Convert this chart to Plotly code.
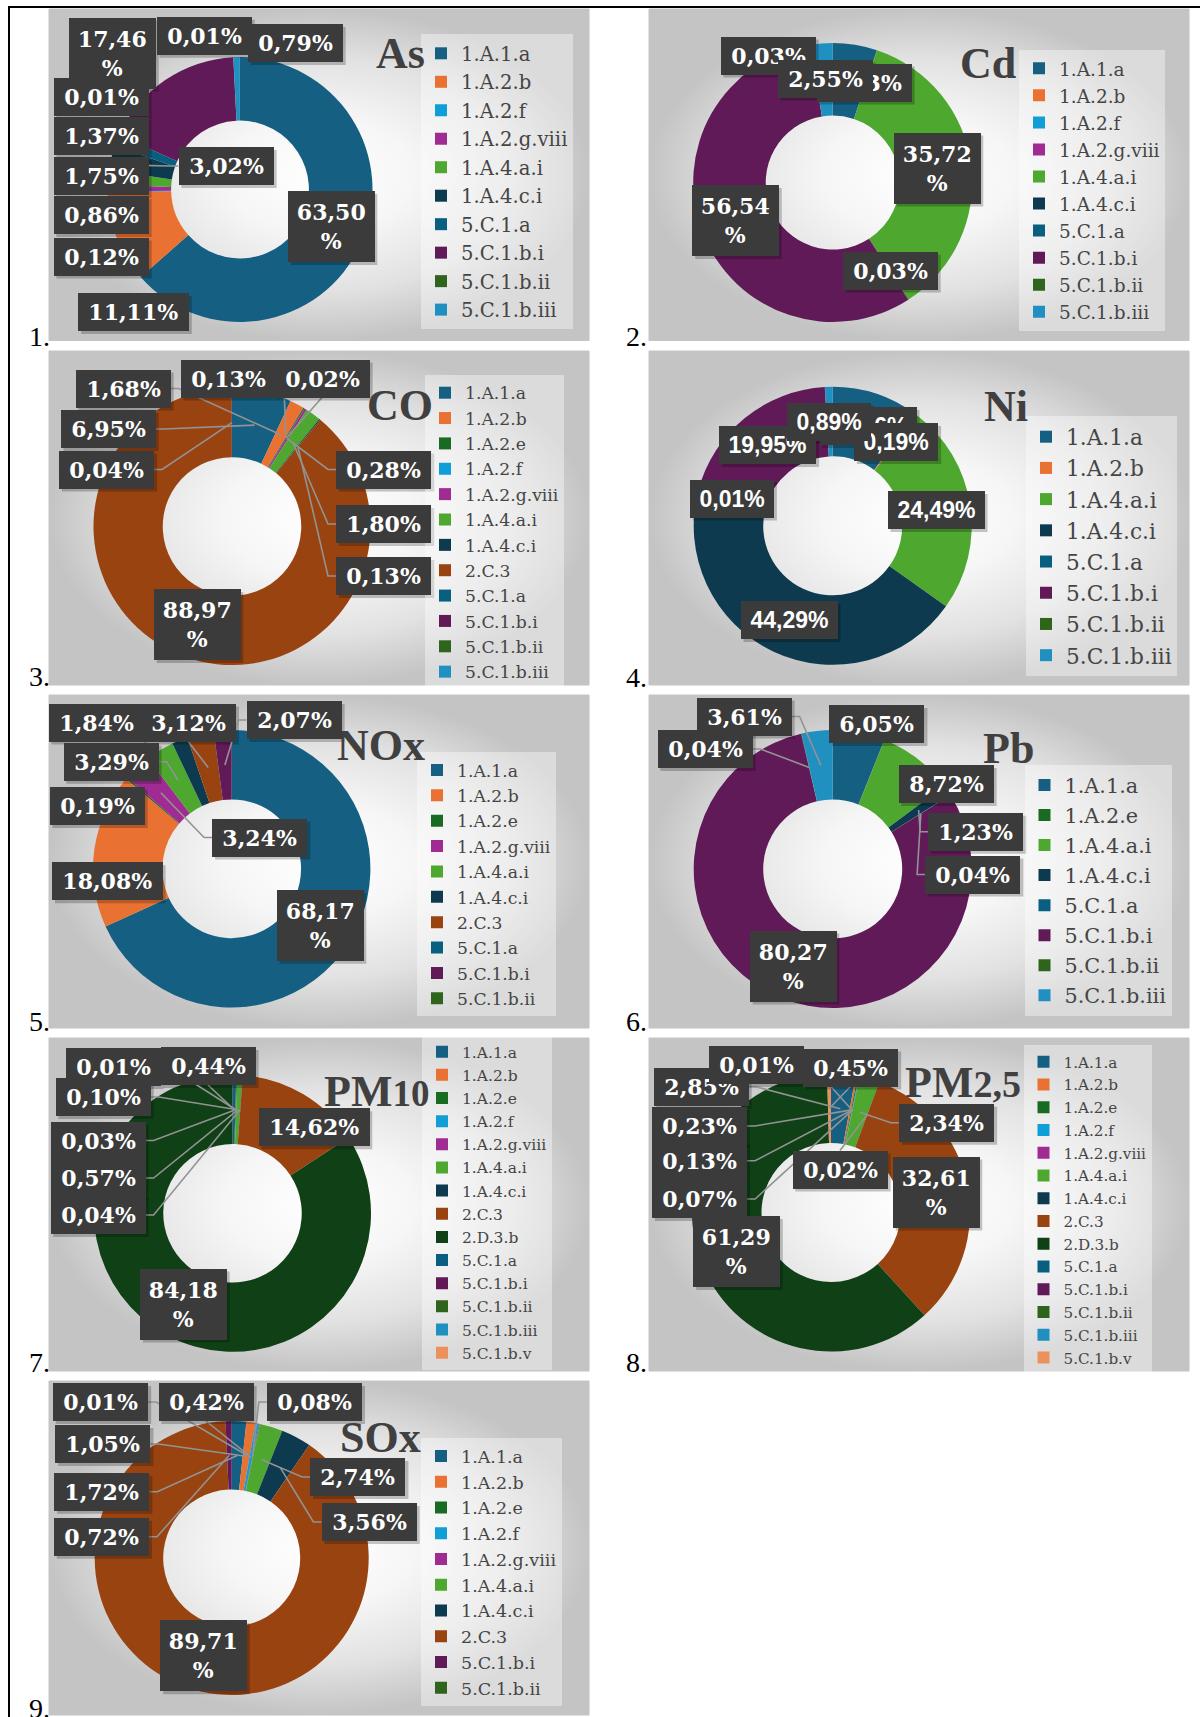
import math
import plotly.graph_objects as go

W, H = 1200, 1717

COLORS = {
    "1.A.1.a": "#156082", "1.A.2.b": "#E97132", "1.A.2.e": "#196B24", "1.A.2.f": "#0F9ED5",
    "1.A.2.g.viii": "#A02B93", "1.A.4.a.i": "#4EA72E", "1.A.4.c.i": "#0D3A4E", "2.C.3": "#994311",
    "2.D.3.b": "#0F4016", "5.C.1.a": "#095F80", "5.C.1.b.i": "#601A58", "5.C.1.b.ii": "#2F641C",
    "5.C.1.b.iii": "#1F90C0", "5.C.1.b.v": "#ED915C",
}

# ------------------------------------------------------------------ data
as_categories = ["1.A.1.a", "1.A.2.b", "1.A.2.f", "1.A.2.g.viii", "1.A.4.a.i", "1.A.4.c.i",
                 "5.C.1.a", "5.C.1.b.i", "5.C.1.b.ii", "5.C.1.b.iii", "5.C.1.b.v"]
as_values = [63.50, 11.11, 0.12, 0.86, 1.75, 3.02, 1.37, 17.46, 0.01, 0.79, 0.01]
as_legend = as_categories[:10]

cd_categories = ["1.A.1.a", "1.A.2.b", "1.A.2.f", "1.A.2.g.viii", "1.A.4.a.i", "1.A.4.c.i",
                 "5.C.1.a", "5.C.1.b.i", "5.C.1.b.ii", "5.C.1.b.iii"]
cd_values = [5.13, 0.0, 0.0, 0.01, 35.72, 0.03, 0.0, 56.54, 0.03, 2.55]
cd_legend = cd_categories

co_categories = ["1.A.1.a", "1.A.2.b", "1.A.2.e", "1.A.2.f", "1.A.2.g.viii", "1.A.4.a.i",
                 "1.A.4.c.i", "2.C.3", "5.C.1.a", "5.C.1.b.i", "5.C.1.b.ii", "5.C.1.b.iii"]
co_values = [6.95, 1.68, 0.13, 0.02, 0.28, 1.80, 0.13, 88.97, 0.0, 0.04, 0.0, 0.0]
co_legend = co_categories

ni_categories = ["1.A.1.a", "1.A.2.b", "1.A.4.a.i", "1.A.4.c.i", "5.C.1.a", "5.C.1.b.i",
                 "5.C.1.b.ii", "5.C.1.b.iii"]
ni_values = [10.16, 0.19, 24.49, 44.29, 0.01, 19.95, 0.02, 0.89]
ni_legend = ni_categories

nox_categories = ["1.A.1.a", "1.A.2.b", "1.A.2.e", "1.A.2.g.viii", "1.A.4.a.i", "1.A.4.c.i",
                  "2.C.3", "5.C.1.a", "5.C.1.b.i", "5.C.1.b.ii"]
nox_values = [68.17, 18.08, 0.19, 3.24, 3.29, 1.84, 3.12, 0.0, 2.07, 0.0]
nox_legend = nox_categories

pb_categories = ["1.A.1.a", "1.A.2.e", "1.A.4.a.i", "1.A.4.c.i", "5.C.1.a", "5.C.1.b.i",
                 "5.C.1.b.ii", "5.C.1.b.iii"]
pb_values = [6.05, 0.04, 8.72, 1.23, 0.04, 80.27, 0.04, 3.61]
pb_legend = pb_categories

pm_categories = ["1.A.1.a", "1.A.2.b", "1.A.2.e", "1.A.2.f", "1.A.2.g.viii", "1.A.4.a.i",
                 "1.A.4.c.i", "2.C.3", "2.D.3.b", "5.C.1.a", "5.C.1.b.i", "5.C.1.b.ii",
                 "5.C.1.b.iii", "5.C.1.b.v"]
pm10_values = [0.44, 0.01, 0.10, 0.03, 0.0, 0.57, 0.04, 14.62, 84.18, 0.0, 0.0, 0.0, 0.0, 0.0]
pm25_values = [2.85, 0.23, 0.13, 0.07, 0.01, 2.34, 0.02, 32.61, 61.29, 0.0, 0.0, 0.0, 0.0, 0.45]

sox_categories = ["1.A.1.a", "1.A.2.b", "1.A.2.e", "1.A.2.f", "1.A.2.g.viii", "1.A.4.a.i",
                  "1.A.4.c.i", "2.C.3", "5.C.1.b.i", "5.C.1.b.ii"]
sox_values = [1.72, 1.05, 0.01, 0.42, 0.08, 2.74, 3.56, 89.71, 0.72, 0.0]
sox_legend = sox_categories

# ------------------------------------------------------------------ layout tables
# labels: (slice index, box centre x, box centre y, wrapped, leader line)
PANELS = [
    dict(title="As", cats=as_categories, vals=as_values, legend=as_legend,
         center=(240, 189.5), R=132.5, hole=0.52, bg=(49, 9, 589, 340.5),
         leg=(461, 53.3, 19.6), tpos=(400, 53), num=("1.", 52, 336), sans=False,
         labels=[(0, 331, 226.5, True, False), (1, 133.5, 312, False, False),
                 (2, 101, 256.5, False, False), (3, 101, 215, False, False),
                 (4, 101, 176, False, False), (5, 226, 166, False, True),
                 (6, 101, 135.5, False, False), (8, 101, 97, False, False),
                 (7, 112.5, 53, True, False), (10, 204, 35.7, False, False),
                 (9, 295, 43, False, False)]),
    dict(title="Cd", cats=cd_categories, vals=cd_values, legend=cd_legend,
         center=(832.7, 182.5), R=139.5, hole=0.48, bg=(649, 9, 1189, 340.5),
         leg=(1059, 68.3, 18.5), tpos=(988, 63), num=("2.", 649, 336), sans=False,
         labels=[(0, 864, 82.5, False, False), (4, 937, 168, True, False),
                 (5, 890, 270.5, False, False), (7, 735.5, 220.5, True, False),
                 (8, 768, 55.5, False, False), (9, 825, 78.5, False, False)]),
    dict(title="CO", cats=co_categories, vals=co_values, legend=co_legend,
         center=(232, 526.5), R=138.5, hole=0.5, bg=(49, 351, 589, 685),
         leg=(465, 392.7, 17.2), tpos=(400, 405), num=("3.", 52, 676), sans=False,
         labels=[(0, 108, 429, False, True), (1, 123, 388.5, False, True),
                 (2, 228, 378.5, False, True), (3, 322, 378.5, False, True),
                 (4, 383.6, 469.5, False, True), (5, 383.6, 524, False, True),
                 (6, 383.6, 576, False, True), (7, 197, 624.5, True, False),
                 (9, 106.5, 469.5, False, True)]),
    dict(title="Ni", cats=ni_categories, vals=ni_values, legend=ni_legend,
         center=(832.7, 525.8), R=139, hole=0.5, bg=(649, 351, 1189, 685),
         leg=(1066, 436.7, 21.7), tpos=(1006, 406), num=("4.", 649, 677), sans=True,
         labels=[(0, 868, 426, False, False), (1, 896, 442, False, False),
                 (2, 936, 510, False, False), (3, 789, 620, False, False),
                 (4, 731.8, 498.5, False, False), (5, 767.6, 445, False, False),
                 (7, 828.7, 421.7, False, False)]),
    dict(title="NOx", cats=nox_categories, vals=nox_values, legend=nox_legend,
         center=(231.7, 868.8), R=138.7, hole=0.5, bg=(49, 695, 589, 1028),
         leg=(457, 770, 17.2), tpos=(381, 745), num=("5.", 52, 1021), sans=False,
         labels=[(0, 320, 925.3, True, False), (1, 107.3, 881.3, False, False),
                 (2, 97, 806, False, False), (3, 259.7, 837.5, False, True),
                 (4, 111, 761.7, False, True), (5, 96, 722.5, False, False),
                 (6, 188.3, 722.5, False, True), (8, 294, 720, False, True)]),
    dict(title="Pb", cats=pb_categories, vals=pb_values, legend=pb_legend,
         center=(832.7, 869), R=139, hole=0.5, bg=(649, 695, 1189, 1028),
         leg=(1064.5, 785, 20.8), tpos=(1008, 748), num=("6.", 649, 1021), sans=False,
         labels=[(0, 876.8, 724, False, False), (2, 946, 784, False, False),
                 (3, 975.8, 831.7, False, True), (4, 972.7, 874.5, False, True),
                 (5, 793, 966, True, False), (6, 705, 749, False, True),
                 (7, 744, 716.5, False, True)]),
    dict(title="PM<span style='font-size:37px'>10</span>", cats=pm_categories, vals=pm10_values,
         legend=pm_categories,
         center=(232.5, 1213.3), R=138.5, hole=0.5, bg=(49, 1038, 589, 1371),
         leg=(462, 1051.7, 15.5), tpos=(376, 1091), num=("7.", 52, 1362), sans=False,
         labels=[(0, 208, 1066, False, True), (1, 113, 1067, False, True),
                 (2, 103, 1097, False, True), (3, 98, 1140.5, False, True),
                 (5, 98, 1178, False, True), (6, 98, 1215, False, True),
                 (7, 314, 1127.3, False, False), (8, 183.3, 1304, True, False)]),
    dict(title="PM<span style='font-size:38px'>2,5</span>", cats=pm_categories, vals=pm25_values,
         legend=pm_categories,
         center=(831, 1212.5), R=139, hole=0.5, bg=(649, 1038, 1189, 1371),
         leg=(1063.5, 1061.7, 15.2), tpos=(963, 1082), num=("8.", 649, 1362), sans=False,
         labels=[(0, 701, 1087, False, True), (1, 699, 1126, False, True),
                 (2, 699.5, 1160.7, False, True), (3, 699.5, 1199, False, True),
                 (4, 756, 1065, False, True), (5, 946.5, 1122.7, False, True),
                 (6, 840, 1169.5, False, True), (7, 936, 1192, True, False),
                 (8, 736.5, 1251.5, True, False), (13, 850.5, 1067.5, False, True)]),
    dict(title="SOx", cats=sox_categories, vals=sox_values, legend=sox_legend,
         center=(231.7, 1558), R=137, hole=0.5, bg=(49, 1381, 589, 1715),
         leg=(461, 1456, 17.5), tpos=(380, 1437), num=("9.", 52, 1708), sans=False,
         labels=[(0, 101.8, 1491.7, False, True), (1, 102.8, 1444, False, True),
                 (2, 100.5, 1402, False, True), (3, 206, 1402, False, True),
                 (4, 314.4, 1402, False, True), (5, 357.8, 1477, False, True),
                 (6, 369, 1522, False, True), (7, 203.4, 1655.8, True, False),
                 (8, 101.4, 1536.7, False, True)]),
]

SERIF_W = {"d": 0.696, ",": 0.380, "%": 1.0}
SANS_W = {"d": 0.556, ",": 0.278, "%": 0.889}


def text_width(s, table, size):
    return sum(table["d"] if ch.isdigit() else table[ch] for ch in s) * size


def fmt(v):
    return f"{v:.2f}".replace(".", ",")


fig = go.Figure()
shapes = []
annotations = []

# panel backgrounds (radial gradient)
for p in PANELS:
    x0, y0, x1, y1 = p["bg"]
    fig.add_trace(go.Scatter(
        x=[x0, x1, x1, x0, x0], y=[y0, y0, y1, y1, y0], mode="lines", fill="toself",
        line=dict(color="#c4c4c4", width=1),
        fillgradient=dict(type="radial",
                          colorscale=[[0, "#ffffff"], [0.35, "#f6f6f6"], [0.7, "#e2e2e2"], [1, "#c4c4c4"]]),
        showlegend=False, hoverinfo="skip"))

for k, p in enumerate(PANELS):
    cx, cy = p["center"]
    R = p["R"]
    lk = "legend" if k == 0 else f"legend{k + 1}"
    fig.add_trace(go.Pie(
        labels=p["cats"], values=p["vals"], hole=p["hole"], sort=False, direction="clockwise",
        rotation=0, textinfo="none", hoverinfo="label+percent", showlegend=False,
        marker=dict(colors=[COLORS.get(c, "#888888") for c in p["cats"]], line=dict(width=0)),
        domain=dict(x=[(cx - R) / W, (cx + R) / W], y=[1 - (cy + R) / H, 1 - (cy - R) / H])))
    # legend entries
    for c in p["legend"]:
        fig.add_trace(go.Scatter(
            x=[None], y=[None], mode="markers", name=c, legend=lk, showlegend=True,
            marker=dict(symbol="square", size=12, color=COLORS[c]), hoverinfo="skip"))
    tx, fy, fs = p["leg"]
    h_item = 1.3 * fs + 3
    top = fy - h_item / 2 - 5
    fig.layout[lk] = dict(x=(tx - 40) / W, y=1 - top / H, xanchor="left", yanchor="top",
                          font=dict(family="DejaVu Serif", size=fs, color="#454545"),
                          bgcolor="rgba(255,255,255,0.4)", borderwidth=0, itemwidth=30,
                          tracegroupgap=0, itemclick=False, itemdoubleclick=False)
    # title
    annotations.append(dict(x=p["tpos"][0], y=p["tpos"][1], xref="x", yref="y", text=p["title"],
                            showarrow=False, xanchor="center", yanchor="middle",
                            font=dict(family="Liberation Serif", size=44, color="#404040", weight=700)))
    # panel number
    n, nx, ny = p["num"]
    annotations.append(dict(x=nx, y=ny, xref="x", yref="y", text=n, showarrow=False,
                            xanchor="right", yanchor="middle",
                            font=dict(family="Liberation Serif", size=28, color="#000000")))
    # data labels
    vals = p["vals"]
    total = sum(vals)
    rm = R * (1 + p["hole"]) / 2
    if p["sans"]:
        fam, fsz, tab = "Liberation Sans", 23, SANS_W
    else:
        fam, fsz, tab = "DejaVu Serif", 22, SERIF_W
    for (idx, bx, by, wrap, lead) in p["labels"]:
        v = vals[idx]
        s = fmt(v)
        if wrap:
            txt = s + "<br>%"
            bw = text_width(s, tab, fsz) + 17
            bh = 71
        else:
            txt = s + "%"
            bw = text_width(s + "%", tab, fsz) + 19
            bh = 38
        left, right, topb, bot = bx - bw / 2, bx + bw / 2, by - bh / 2, by + bh / 2
        if lead:
            cum = sum(vals[:idx]) + v / 2
            th = 2 * math.pi * cum / total
            ax = cx + rm * math.sin(th)
            ay = cy - rm * math.cos(th)
            if ax > right:
                pts = [(right, by), (right + 8, by), (ax, ay)]
            elif ax < left:
                pts = [(left, by), (left - 8, by), (ax, ay)]
            elif ay > bot:
                pts = [(bx, bot), (ax, ay)]
            else:
                pts = [(bx, topb), (ax, ay)]
            path = "M" + " L".join(f"{x:.1f},{y:.1f}" for x, y in pts)
            shapes.append(dict(type="path", path=path, xref="x", yref="y", layer="above",
                               line=dict(color="#939393", width=1.6)))
        shapes.append(dict(type="rect", x0=left + 3, x1=right + 3, y0=topb + 3, y1=bot + 3,
                           xref="x", yref="y", layer="above", line=dict(width=0),
                           fillcolor="rgba(0,0,0,0.22)"))
        annotations.append(dict(x=bx, y=by, xref="x", yref="y", text=txt, showarrow=False,
                                xanchor="center", yanchor="middle", align="center", valign="middle",
                                width=bw, height=bh, borderpad=0, borderwidth=0,
                                bgcolor="#3b3b3b",
                                font=dict(family=fam, size=fsz, color="#ffffff", weight=700)))

# outer frame
shapes.append(dict(type="line", x0=8, x1=1200, y0=7, y1=7, xref="x", yref="y",
                   line=dict(color="#000000", width=2), layer="above"))
shapes.append(dict(type="line", x0=9, x1=9, y0=7, y1=1717, xref="x", yref="y",
                   line=dict(color="#000000", width=2), layer="above"))

fig.update_layout(
    width=W, height=H, margin=dict(l=0, r=0, t=0, b=0),
    paper_bgcolor="#ffffff", plot_bgcolor="rgba(0,0,0,0)",
    xaxis=dict(range=[0, W], visible=False, fixedrange=True, domain=[0, 1]),
    yaxis=dict(range=[H, 0], visible=False, fixedrange=True, domain=[0, 1]),
    showlegend=True, shapes=shapes, annotations=annotations,
)

fig.write_html("out.html", config={"displayModeBar": False},
               post_script="document.body.style.margin='0';")
